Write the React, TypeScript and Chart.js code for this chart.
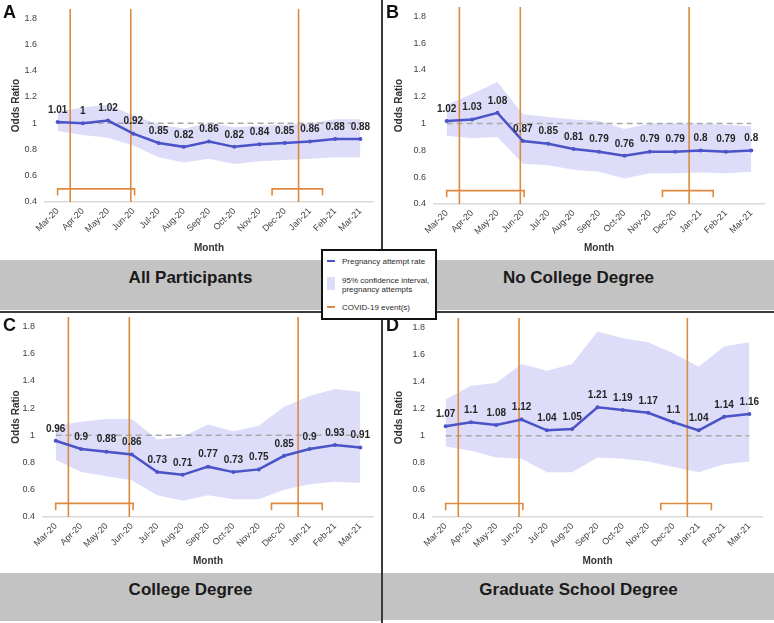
import { useEffect, useRef } from "react"
import { Chart, registerables } from "chart.js"

// Register Chart.js components
Chart.register(...registerables)

const months = [
  "Mar-20", "Apr-20", "May-20", "Jun-20", "Jul-20", "Aug-20", "Sep-20",
  "Oct-20", "Nov-20", "Dec-20", "Jan-21", "Feb-21", "Mar-21",
]
const yTicks = [0.4, 0.6, 0.8, 1, 1.2, 1.4, 1.6, 1.8]

// A - All participants
const allRate = [1.01, 1, 1.02, 0.92, 0.85, 0.82, 0.86, 0.82, 0.84, 0.85, 0.86, 0.88, 0.88]
const allUpper = [1.09, 1.12, 1.14, 1.06, 0.99, 0.96, 1.0, 0.97, 0.98, 0.99, 1.0, 1.03, 1.03]
const allLower = [0.94, 0.91, 0.89, 0.83, 0.74, 0.7, 0.73, 0.69, 0.71, 0.72, 0.73, 0.74, 0.74]

// B - No college degree
const noCollegeRate = [1.02, 1.03, 1.08, 0.87, 0.85, 0.81, 0.79, 0.76, 0.79, 0.79, 0.8, 0.79, 0.8]
const noCollegeUpper = [1.14, 1.22, 1.31, 1.07, 1.05, 1.03, 1.02, 0.96, 1.0, 1.0, 1.0, 0.99, 0.98]
const noCollegeLower = [0.91, 0.89, 0.9, 0.7, 0.69, 0.655, 0.64, 0.59, 0.63, 0.63, 0.635, 0.63, 0.64]

// C - College degree
const collegeRate = [0.96, 0.9, 0.88, 0.86, 0.73, 0.71, 0.77, 0.73, 0.75, 0.85, 0.9, 0.93, 0.91]
const collegeUpper = [1.07, 1.1, 1.12, 1.12, 0.97, 0.99, 1.08, 1.03, 1.07, 1.21, 1.29, 1.34, 1.32]
const collegeLower = [0.82, 0.73, 0.7, 0.67, 0.56, 0.52, 0.56, 0.53, 0.53, 0.6, 0.64, 0.66, 0.65]

// D - Graduate school degree
const gradRate = [1.07, 1.1, 1.08, 1.12, 1.04, 1.05, 1.21, 1.19, 1.17, 1.1, 1.04, 1.14, 1.16]
const gradUpper = [1.27, 1.37, 1.39, 1.53, 1.48, 1.53, 1.77, 1.72, 1.69, 1.61, 1.51, 1.66, 1.69]
const gradLower = [0.92, 0.89, 0.84, 0.83, 0.73, 0.73, 0.84, 0.83, 0.81, 0.77, 0.73, 0.79, 0.81]

// COVID-19 events (in month-index units) and the bracketed windows
const covidEvents = [0.5, 2.9, 9.55]
const covidWindows = [
  [0, 3.05],
  [8.5, 10.5],
]

const BLUE = "#4b53c6"
const BAND = "rgba(200, 200, 246, 0.62)"
const ORANGE = "#dd8a3e"
const FONT = "Arial, 'Liberation Sans', sans-serif"

Chart.defaults.font.family = FONT

interface Frame {
  left: number
  top: number
  width: number
  height: number
  axisWidth: number
  axisHeight: number
  padTop: number
  padRight: number
}

interface PanelProps {
  letter: string
  title: string
  rate: number[]
  upper: number[]
  lower: number[]
  frame: Frame
  bandTop: number
  bandHeight: number
}

const toPoints = (ys: number[]) => ys.map((y, i) => ({ x: i, y }))

function OddsPanel({ letter, title, rate, upper, lower, frame, bandTop, bandHeight }: PanelProps) {
  const chartRef = useRef<HTMLCanvasElement>(null)

  useEffect(() => {
    if (!chartRef.current) return
    const ctx = chartRef.current.getContext("2d")
    if (!ctx) return

    const eventLines = covidEvents.map((x) => ({
      data: [
        { x, y: 0.4 },
        { x, y: 1.87 },
      ],
      borderColor: ORANGE,
      borderWidth: 1.6,
      pointRadius: 0,
      fill: false,
    }))

    const brackets = covidWindows.map(([a, b]) => ({
      data: [
        { x: a, y: 0.45 },
        { x: a, y: 0.5 },
        { x: b, y: 0.5 },
        { x: b, y: 0.45 },
      ],
      borderColor: ORANGE,
      borderWidth: 1.6,
      pointRadius: 0,
      fill: false,
    }))

    // value labels above every point of the rate line
    const valueLabels = {
      id: "valueLabels",
      afterDatasetsDraw(chart: Chart) {
        const meta = chart.getDatasetMeta(0)
        const c = chart.ctx
        c.save()
        c.font = `bold 10px ${FONT}`
        c.fillStyle = "#262626"
        c.textAlign = "center"
        c.textBaseline = "middle"
        meta.data.forEach((pt, i) => {
          c.fillText(String(rate[i]), pt.x, pt.y - 12)
        })
        c.restore()
      },
    }

    const chart = new Chart(ctx, {
      type: "line",
      data: {
        datasets: [
          {
            label: "Pregnancy attempt rate",
            data: toPoints(rate),
            borderColor: BLUE,
            backgroundColor: BLUE,
            borderWidth: 2.5,
            pointRadius: 2,
            pointBorderWidth: 0,
            fill: false,
          },
          ...eventLines,
          ...brackets,
          {
            data: [
              { x: 0, y: 1 },
              { x: 12, y: 1 },
            ],
            borderColor: "#a9a9a9",
            borderWidth: 1.5,
            borderDash: [6, 4],
            pointRadius: 0,
            fill: false,
          },
          {
            data: toPoints(upper),
            borderWidth: 0,
            borderColor: "rgba(0,0,0,0)",
            backgroundColor: BAND,
            pointRadius: 0,
            fill: "+1",
          },
          {
            data: toPoints(lower),
            borderWidth: 0,
            borderColor: "rgba(0,0,0,0)",
            pointRadius: 0,
            fill: false,
          },
        ],
      },
      options: {
        animation: false,
        responsive: true,
        maintainAspectRatio: false,
        layout: { padding: { top: frame.padTop, right: frame.padRight, left: 0, bottom: 0 } },
        plugins: {
          legend: { display: false },
          tooltip: { enabled: false },
        },
        scales: {
          x: {
            type: "linear",
            min: -0.5,
            max: 12.5,
            afterBuildTicks: (scale) => {
              scale.ticks = months.map((_, i) => ({ value: i }))
            },
            afterFit: (scale) => {
              scale.height = frame.axisHeight
              scale.paddingLeft = 0
              scale.paddingRight = 0
            },
            ticks: {
              callback: (v) => months[Number(v)],
              autoSkip: false,
              minRotation: 45,
              maxRotation: 45,
              padding: 4,
              color: "#404040",
              font: { size: 9 },
            },
            grid: { display: false, drawTicks: false },
            border: { color: "#d9d9d9", width: 1.5 },
            title: {
              display: true,
              text: "Month",
              color: "#333333",
              font: { size: 10, weight: "bold" },
              padding: { top: 0, bottom: 6 },
            },
          },
          y: {
            min: 0.4,
            max: 1.87,
            afterBuildTicks: (scale) => {
              scale.ticks = yTicks.map((v) => ({ value: v }))
            },
            afterFit: (scale) => {
              scale.width = frame.axisWidth
              scale.paddingTop = 0
              scale.paddingBottom = 0
            },
            ticks: {
              callback: (v) => String(v),
              padding: 8,
              color: "#404040",
              font: { size: 9 },
            },
            grid: { display: false, drawTicks: false },
            border: { display: false },
            title: {
              display: true,
              text: "Odds Ratio",
              color: "#333333",
              font: { size: 10, weight: "bold" },
              padding: { top: 10, bottom: 0 },
            },
          },
        },
      },
      plugins: [valueLabels],
    })

    return () => {
      chart.destroy()
    }
  }, [rate, upper, lower, frame])

  return (
    <>
      <div
        style={{
          position: "absolute",
          left: frame.left,
          top: frame.top,
          width: frame.width,
          height: frame.height,
        }}
      >
        <canvas ref={chartRef} aria-label={title}></canvas>
      </div>
      <div
        style={{
          position: "absolute",
          left: frame.left + 3,
          top: frame.top + 2,
          font: `bold 18px ${FONT}`,
          color: "#111",
        }}
      >
        {letter}
      </div>
      <div
        style={{
          position: "absolute",
          left: frame.left,
          top: bandTop,
          width: frame.width,
          height: bandHeight,
          background: "#c3c3c3",
          display: "flex",
          alignItems: "center",
          justifyContent: "center",
          boxSizing: "border-box",
          paddingBottom: 14,
          font: `bold 17px ${FONT}`,
          color: "#1a1a1a",
        }}
      >
        {title}
      </div>
    </>
  )
}

const frameA: Frame = { left: 0, top: 0, width: 381, height: 260, axisWidth: 45, axisHeight: 58, padTop: 9, padRight: 8 }
const frameB: Frame = { left: 383, top: 0, width: 391, height: 260, axisWidth: 51, axisHeight: 56, padTop: 7, padRight: 10 }
const frameC: Frame = { left: 0, top: 313, width: 381, height: 260, axisWidth: 43, axisHeight: 56, padTop: 4, padRight: 8 }
const frameD: Frame = { left: 383, top: 313, width: 391, height: 260, axisWidth: 50, axisHeight: 56, padTop: 5, padRight: 12 }

function LegendBox() {
  const text = { font: `8px ${FONT}`, color: "#2a2a2a", lineHeight: "9px", whiteSpace: "nowrap" as const }
  return (
    <div
      style={{
        position: "absolute",
        left: 321,
        top: 249,
        width: 116,
        height: 71,
        boxSizing: "border-box",
        border: "2px solid #111",
        background: "#fff",
      }}
    >
      <div style={{ position: "absolute", left: 4, top: 9, width: 8, height: 2, background: BLUE }} />
      <div style={{ position: "absolute", left: 19, top: 5.5, ...text }}>Pregnancy attempt rate</div>
      <div style={{ position: "absolute", left: 4, top: 26, width: 8, height: 13, background: BAND }} />
      <div style={{ position: "absolute", left: 19, top: 24.5, ...text }}>
        95% confidence interval,
        <br />
        pregnancy attempts
      </div>
      <div style={{ position: "absolute", left: 4, top: 55, width: 8, height: 2, background: ORANGE }} />
      <div style={{ position: "absolute", left: 19, top: 51.5, ...text }}>COVID-19 event(s)</div>
    </div>
  )
}

export default function App() {
  return (
    <div
      style={{
        position: "fixed",
        left: 0,
        top: 0,
        width: 774,
        height: 623,
        background: "#fff",
        overflow: "hidden",
      }}
    >
      <OddsPanel letter="A" title="All Participants" rate={allRate} upper={allUpper} lower={allLower} frame={frameA} bandTop={260} bandHeight={50} />
      <OddsPanel letter="B" title="No College Degree" rate={noCollegeRate} upper={noCollegeUpper} lower={noCollegeLower} frame={frameB} bandTop={260} bandHeight={50} />
      <OddsPanel letter="C" title="College Degree" rate={collegeRate} upper={collegeUpper} lower={collegeLower} frame={frameC} bandTop={573} bandHeight={48} />
      <OddsPanel letter="D" title="Graduate School Degree" rate={gradRate} upper={gradUpper} lower={gradLower} frame={frameD} bandTop={573} bandHeight={47} />
      <div style={{ position: "absolute", left: 381, top: 0, width: 2, height: 623, background: "#3a3a3a" }} />
      <div style={{ position: "absolute", left: 0, top: 311, width: 774, height: 2, background: "#3a3a3a" }} />
      <LegendBox />
    </div>
  )
}
